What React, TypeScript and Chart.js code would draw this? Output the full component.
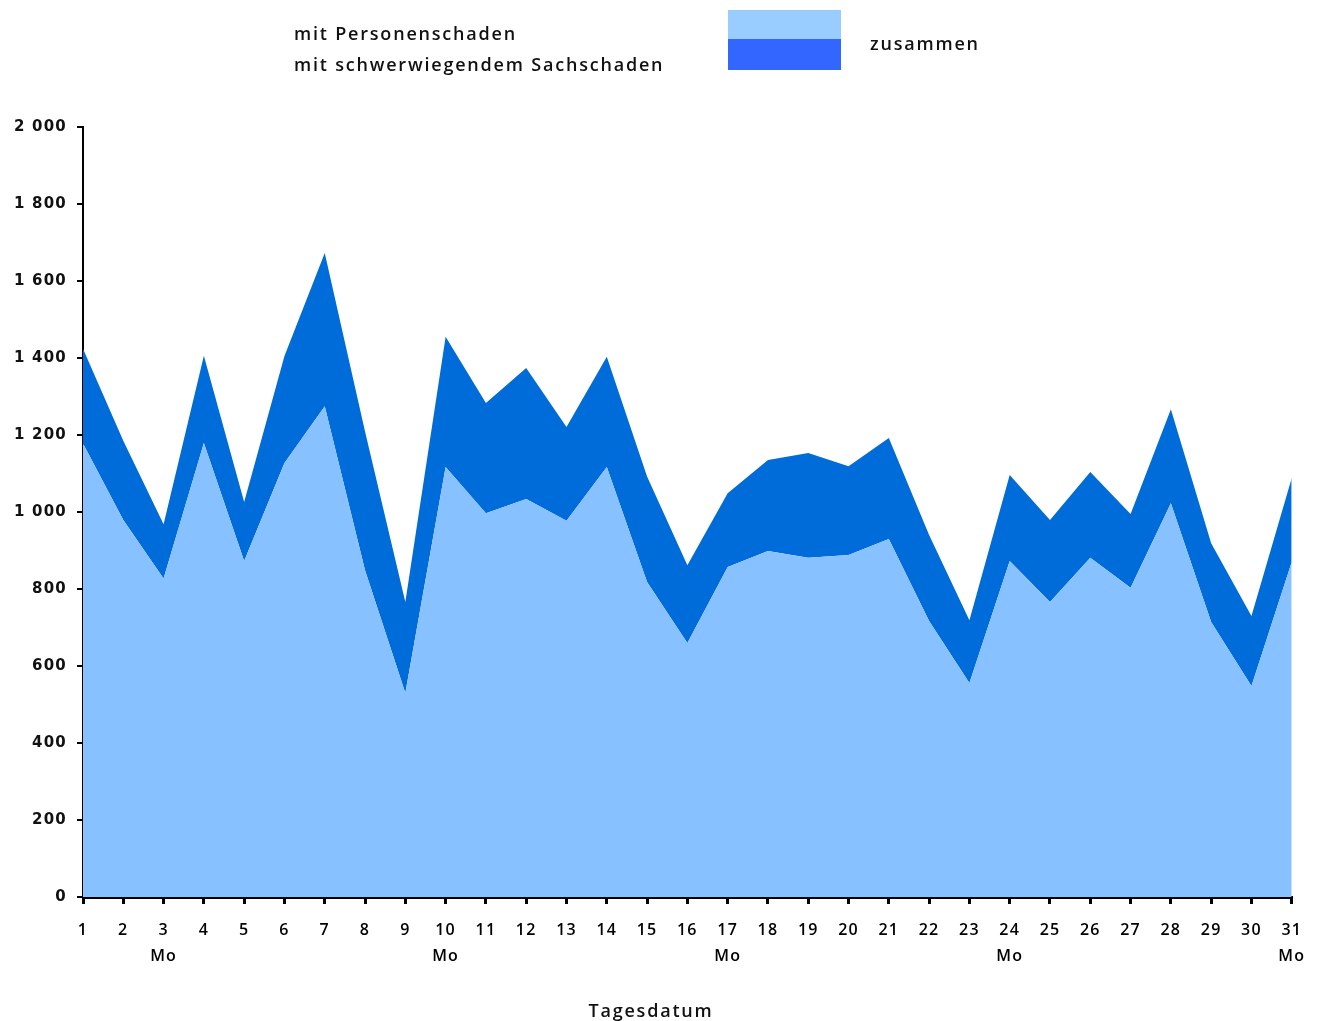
import React, { useEffect, useRef } from 'react';
import { Chart, registerables } from 'chart.js';

Chart.register(...registerables);

const days = ['1', '2', '3', '4', '5', '6', '7', '8', '9', '10', '11', '12', '13', '14', '15', '16',
  '17', '18', '19', '20', '21', '22', '23', '24', '25', '26', '27', '28', '29', '30', '31'];
const mondays = ['3', '10', '17', '24', '31'];

// Unfälle mit Personenschaden
const personenschaden = [1178, 979, 827, 1179, 873, 1127, 1275, 849, 530, 1117, 997, 1034, 977, 1117, 818, 660,
  857, 899, 881, 888, 930, 717, 556, 873, 766, 881, 803, 1023, 714, 548, 870];
// Unfälle mit schwerwiegendem Sachschaden
const sachschaden = [246, 206, 141, 227, 153, 278, 398, 360, 236, 338, 286, 340, 244, 286, 274, 202,
  192, 236, 272, 231, 262, 223, 163, 223, 213, 223, 192, 244, 205, 182, 218];

const yMin = 0;
const yMax = 2000;
const yStep = 200;

const legendLines = ['mit Personenschaden', 'mit schwerwiegendem Sachschaden'];
const legendTotal = 'zusammen';
const xTitle = 'Tagesdatum';

function formatThousands(v: number): string {
  if (v >= 1000) {
    const th = Math.floor(v / 1000);
    const rest = String(v % 1000).padStart(3, '0');
    return th + ' ' + rest;
  }
  return String(v);
}

const spacingPlugin = {
  id: 'spacing',
  beforeDraw(chart: any) {
    try {
      chart.ctx.letterSpacing = '1.2px';
    } catch (e) {
      /* ignore */
    }
  },
};

export default function App() {
  const ref = useRef<HTMLCanvasElement>(null);

  useEffect(() => {
    if (!ref.current) return;
    const chart = new Chart(ref.current, {
      type: 'line',
      data: {
        labels: days.map((d) => (mondays.includes(d) ? [d, 'Mo'] : d)),
        datasets: [
          {
            label: legendLines[0],
            data: personenschaden,
            backgroundColor: '#88c1ff',
            borderColor: 'rgba(0,0,0,0)',
            borderWidth: 0,
            pointRadius: 0,
            pointHoverRadius: 0,
            tension: 0,
            fill: 'origin',
          },
          {
            label: legendLines[1],
            data: sachschaden,
            backgroundColor: '#006cd9',
            borderColor: 'rgba(0,0,0,0)',
            borderWidth: 0,
            pointRadius: 0,
            pointHoverRadius: 0,
            tension: 0,
            fill: '-1',
          },
        ],
      },
      plugins: [spacingPlugin],
      options: {
        animation: false,
        responsive: true,
        maintainAspectRatio: false,
        layout: { padding: { top: 127, right: 25, left: 0, bottom: 0 } },
        plugins: {
          legend: { display: false },
          tooltip: { enabled: false },
        },
        scales: {
          x: {
            type: 'category',
            offset: false,
            grid: {
              display: true,
              drawOnChartArea: false,
              drawTicks: true,
              tickLength: 7,
              color: '#000',
              lineWidth: 3,
            },
            border: { display: true, color: '#000', width: 3 },
            ticks: {
              autoSkip: false,
              maxRotation: 0,
              minRotation: 0,
              padding: 13,
              color: '#000',
              font: { family: 'Open Sans', size: 16, weight: '600', lineHeight: 1.65 },
            },
            afterFit: (s: any) => {
              s.height = 124;
            },
          },
          y: {
            stacked: true,
            min: yMin,
            max: yMax,
            grid: {
              display: true,
              drawOnChartArea: false,
              drawTicks: true,
              tickLength: 6,
              color: '#000',
              lineWidth: 2,
            },
            border: { display: true, color: '#000', width: 2 },
            ticks: {
              stepSize: yStep,
              padding: 10,
              color: '#111',
              font: { family: 'DejaVu Sans', size: 15, weight: 'bold' },
              callback: (v: any) => formatThousands(Number(v)),
            },
            afterFit: (s: any) => {
              s.width = 83;
            },
          },
        },
      },
    });
    return () => chart.destroy();
  }, []);

  const textStyle: React.CSSProperties = {
    fontFamily: 'Open Sans, sans-serif',
    fontSize: 18,
    fontWeight: 600,
    letterSpacing: '1.8px',
    color: '#111',
    whiteSpace: 'nowrap',
  };

  return (
    <div style={{ position: 'absolute', left: 0, top: 0, width: 1317, height: 1021, background: '#fff' }}>
      <canvas ref={ref} />
      <div style={{ ...textStyle, position: 'absolute', left: 294, top: 18, lineHeight: '31px' }}>
        <div>{legendLines[0]}</div>
        <div>{legendLines[1]}</div>
      </div>
      <div style={{ position: 'absolute', left: 728, top: 10, width: 113, height: 29, background: '#99ccff' }} />
      <div style={{ position: 'absolute', left: 728, top: 39, width: 113, height: 31, background: '#3366ff' }} />
      <div style={{ ...textStyle, position: 'absolute', left: 870, top: 28, lineHeight: '30px' }}>{legendTotal}</div>
      <div
        style={{
          ...textStyle,
          position: 'absolute',
          left: 551,
          width: 200,
          textAlign: 'center',
          top: 995,
          lineHeight: '30px',
        }}
      >
        {xTitle}
      </div>
    </div>
  );
}
